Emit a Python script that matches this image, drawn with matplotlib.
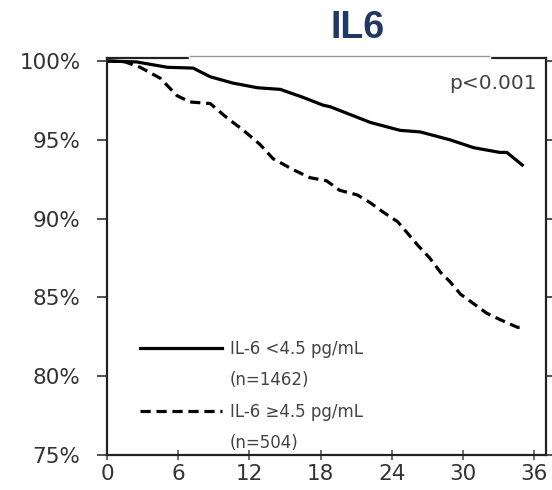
import matplotlib
matplotlib.use('Agg')
import matplotlib.pyplot as plt
from matplotlib.lines import Line2D

# survival curves (months, % event-free)
low_months = [0, 2.5, 5.1, 7.25, 8.7, 10.6, 12.7, 14.6, 16.5, 18.2, 18.8,
              22.2, 24.7, 26.4, 28.9, 30.9, 33.1, 33.7, 35.0]
low_surv = [100, 99.94, 99.6, 99.55, 99.0, 98.6, 98.3, 98.2, 97.7, 97.2, 97.1,
            96.1, 95.6, 95.5, 95.0, 94.5, 94.2, 94.2, 93.4]

high_months = [0, 1.5, 2.8, 4.5, 5.9, 7.0, 8.7, 10.1, 11.5, 12.9, 14.0, 15.7,
               17.1, 18.5, 19.6, 21.1, 22.2, 23.3, 24.5, 25.3, 26.2, 27.2,
               28.1, 28.9, 29.8, 30.9, 32.0, 33.1, 34.6, 35.0]
high_surv = [100, 99.95, 99.6, 98.9, 97.8, 97.4, 97.3, 96.4, 95.6, 94.7, 93.8,
             93.1, 92.6, 92.4, 91.8, 91.5, 91.0, 90.4, 89.8, 89.1, 88.3, 87.5,
             86.6, 86.0, 85.2, 84.6, 84.0, 83.6, 83.1, 83.1]

x_ticks = [0, 6, 12, 18, 24, 30, 36]
y_ticks = [75, 80, 85, 90, 95, 100]
y_ticklabels = ['75%', '80%', '85%', '90%', '95%', '100%']

labels = ['IL-6 <4.5 pg/mL', '(n=1462)', 'IL-6 \u22654.5 pg/mL', '(n=504)']

fig = plt.figure(figsize=(5.52, 4.9), dpi=100)
ax = fig.add_axes([107 / 552, 35 / 490, 439 / 552, 397 / 490])

ax.plot(low_months, low_surv, color='black', lw=2.3, solid_joinstyle='round')
ax.plot(high_months, high_surv, color='black', lw=2.3, dashes=(3.2, 1.8))

ax.set_xlim(0, 37)
ax.set_ylim(75, 100.19)
ax.set_xticks(x_ticks)
ax.set_yticks(y_ticks)
ax.set_yticklabels(y_ticklabels)

for s in ax.spines.values():
    s.set_linewidth(1.6)
    s.set_color('#222222')

ax.tick_params(axis='y', direction='out', length=7, width=1.2, pad=12,
               labelsize=15.5, labelcolor='#333333', right=True, color='#333333')
ax.tick_params(axis='x', direction='inout', length=7, width=1.2, pad=3,
               labelsize=15.5, labelcolor='#333333', color='#555555')

# white title band covering part of the top border
ax.plot([0.19, 0.87], [1.0, 1.0], transform=ax.transAxes, color='white',
        lw=2.5, clip_on=False, zorder=5)
ax.plot([0.19, 0.87], [1.004, 1.004], transform=ax.transAxes, color='#999999',
        lw=1.0, clip_on=False, zorder=6)

ax.text(0.978, 0.935, 'p<0.001', transform=ax.transAxes, ha='right', va='center',
        fontsize=14.5, color='#444444')

handles = [Line2D([], [], color='black', lw=2.3),
           Line2D([], [], color='none'),
           Line2D([], [], color='black', lw=2.3, dashes=(3.2, 1.8)),
           Line2D([], [], color='none')]
ax.legend(handles, labels, loc='upper left', bbox_to_anchor=(33 / 439, 115 / 397),
          frameon=False, fontsize=12, labelcolor='#444444', handlelength=4.9,
          handletextpad=0.5, labelspacing=0.8, borderpad=0, borderaxespad=0)

fig.text(358 / 552, 1 - 28 / 490, 'IL6', ha='center', va='center', fontsize=27,
         fontweight='bold', color='#1f3864', family='Liberation Sans')

fig.savefig('out.png', dpi=100)
